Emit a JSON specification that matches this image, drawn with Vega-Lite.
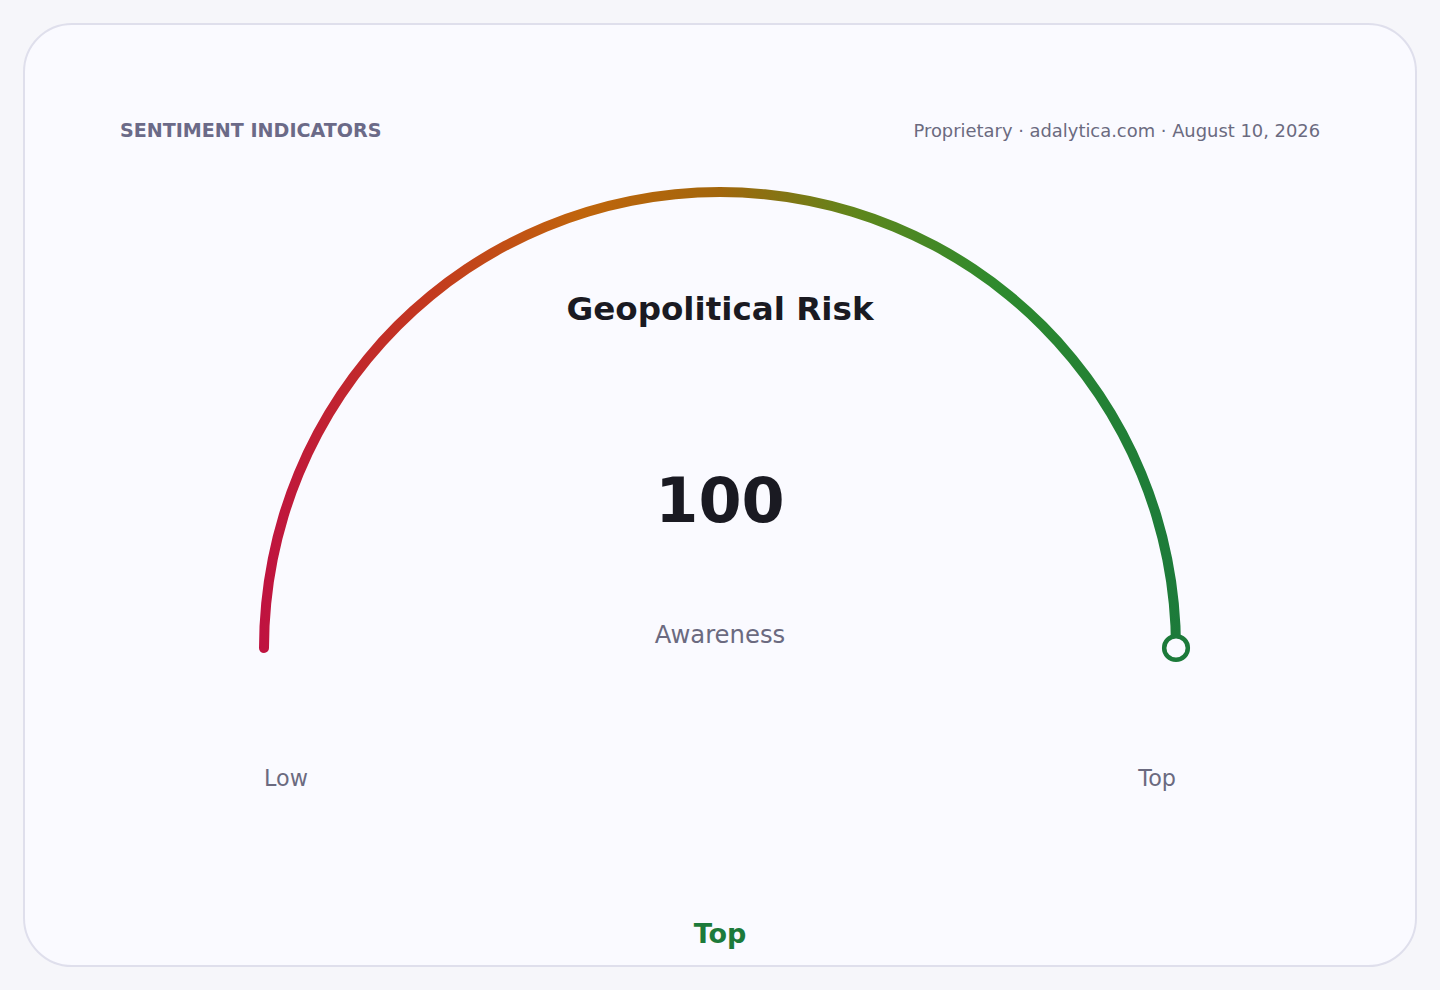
{
  "$schema": "https://vega.github.io/schema/vega-lite/v6.json",
  "width": 1440,
  "height": 990,
  "autosize": {"type": "fit", "contains": "padding"},
  "padding": 24,
  "background": "#f6f6fa",
  "config": {
    "font": "DejaVu Sans",
    "view": {"fill": "#fafaff", "stroke": "#dfdfec", "strokeWidth": 2, "cornerRadius": 48}
  },
  "datasets": {
    "gauge": [{"x": 0, "y": 0, "from": 0, "to": 100}],
    "marker": [{"x": 100, "y": 0, "value": 100}],
    "headerLeft": [{"x": -131.6, "y": 112.1, "label": "SENTIMENT INDICATORS"}],
    "headerRight": [{"x": 131.6, "y": 112.1, "label": "Proprietary · adalytica.com · August 10, 2026"}],
    "title": [{"x": 0, "y": 71.9, "label": "Geopolitical Risk"}],
    "value": [{"x": 0, "y": 27.6, "label": "100"}],
    "caption": [{"x": 0, "y": 1.1, "label": "Awareness"}],
    "ends": [
      {"x": -100, "y": -30.3, "label": "Low", "side": "left"},
      {"x": 100, "y": -30.3, "label": "Top", "side": "right"}
    ],
    "band": [{"x": 0, "y": -64.8, "label": "Top"}]
  },
  "encoding": {
    "x": {
      "field": "x",
      "type": "quantitative",
      "scale": {"domain": [-152.63, 152.63], "nice": false, "zero": false},
      "axis": null
    },
    "y": {
      "field": "y",
      "type": "quantitative",
      "scale": {"domain": [-69.74, 136.84], "nice": false, "zero": false},
      "axis": null
    }
  },
  "layer": [
    {
      "data": {"name": "gauge"},
      "mark": {
        "type": "arc",
        "radius": 461,
        "radius2": 451,
        "cornerRadius": 5,
        "fill": {
          "gradient": "linear",
          "x1": 0, "y1": 0, "x2": 1, "y2": 0,
          "stops": [
            {"offset": 0, "color": "#bf1240"},
            {"offset": 0.18, "color": "#c3381f"},
            {"offset": 0.35, "color": "#c0650c"},
            {"offset": 0.5, "color": "#a2660c"},
            {"offset": 0.65, "color": "#5e861c"},
            {"offset": 0.8, "color": "#2e8a2e"},
            {"offset": 1, "color": "#1c7a3a"}
          ]
        }
      },
      "encoding": {
        "theta": {
          "field": "from",
          "type": "quantitative",
          "stack": null,
          "scale": {"domain": [0, 100], "range": [-1.582, 1.582]}
        },
        "theta2": {"field": "to"}
      }
    },
    {
      "data": {"name": "marker"},
      "mark": {
        "type": "point",
        "shape": "circle",
        "size": 560,
        "filled": true,
        "fill": "#fafaff",
        "stroke": "#1c7a3a",
        "strokeWidth": 4.5,
        "opacity": 1
      }
    },
    {
      "data": {"name": "headerLeft"},
      "mark": {"type": "text", "align": "left", "baseline": "alphabetic", "fontSize": 19.1, "fontWeight": "bold", "color": "#6b6a88"},
      "encoding": {"text": {"field": "label"}}
    },
    {
      "data": {"name": "headerRight"},
      "mark": {"type": "text", "align": "right", "baseline": "alphabetic", "fontSize": 17.9, "color": "#6b6a80"},
      "encoding": {"text": {"field": "label"}}
    },
    {
      "data": {"name": "title"},
      "mark": {"type": "text", "align": "center", "baseline": "alphabetic", "fontSize": 32.6, "fontWeight": "bold", "color": "#1a1a22"},
      "encoding": {"text": {"field": "label"}}
    },
    {
      "data": {"name": "value"},
      "mark": {"type": "text", "align": "center", "baseline": "alphabetic", "fontSize": 62, "fontWeight": "bold", "color": "#1a1a22"},
      "encoding": {"text": {"field": "label"}}
    },
    {
      "data": {"name": "caption"},
      "mark": {"type": "text", "align": "center", "baseline": "alphabetic", "fontSize": 24.3, "color": "#6b6a80"},
      "encoding": {"text": {"field": "label"}}
    },
    {
      "data": {"name": "ends"},
      "transform": [{"filter": "datum.side == 'left'"}],
      "mark": {"type": "text", "align": "left", "baseline": "alphabetic", "fontSize": 22.3, "color": "#6b6a80"},
      "encoding": {"text": {"field": "label"}}
    },
    {
      "data": {"name": "ends"},
      "transform": [{"filter": "datum.side == 'right'"}],
      "mark": {"type": "text", "align": "right", "baseline": "alphabetic", "fontSize": 22.3, "color": "#6b6a80"},
      "encoding": {"text": {"field": "label"}}
    },
    {
      "data": {"name": "band"},
      "mark": {"type": "text", "align": "center", "baseline": "alphabetic", "fontSize": 27, "fontWeight": "bold", "color": "#1c7a3a"},
      "encoding": {"text": {"field": "label"}}
    }
  ]
}
